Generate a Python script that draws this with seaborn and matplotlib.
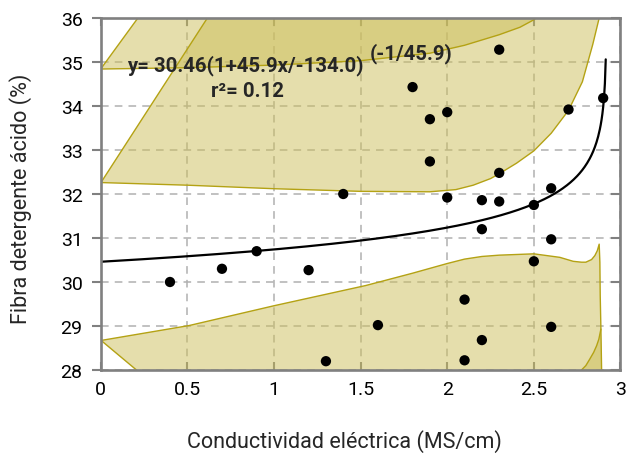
import numpy as np
import matplotlib
matplotlib.use("Agg")
import matplotlib.pyplot as plt
import matplotlib.lines as mlines
import seaborn as sns
import pandas as pd

# ---- data ----
cond = [0.4, 0.7, 0.9, 1.2, 1.4, 1.6, 1.3, 2.0, 2.2, 2.3, 2.2, 2.5, 2.6, 2.6, 2.5,
        2.1, 2.6, 2.2, 2.1, 2.3, 1.8, 1.9, 2.0, 1.9, 2.3, 2.7, 2.9]
fda = [30.0, 30.3, 30.7, 30.27, 32.0, 29.02, 28.2, 31.92, 31.86, 31.83, 31.2, 31.75, 32.13, 30.97, 30.47,
       29.6, 28.98, 28.68, 28.22, 35.28, 34.43, 33.7, 33.86, 32.74, 32.48, 33.92, 34.18]

# fitted model shown on the chart: y = a (1 + b x / c)^(-1/b)
fit_a, fit_b, fit_c = 30.46, 45.9, -134.0
fit_xmax = 2.9148

# band boundaries
A_x = [0.0, 0.5, 1.0, 1.5, 1.9, 2.1, 2.3, 2.42, 2.5, 2.56]
A_y = [34.84, 34.87, 34.93, 35.03, 35.2, 35.38, 35.62, 35.79, 35.96, 36.15]
B_x = [0.0, 0.4]
B_y = [34.84, 37.0]
C_x = [0.0, 0.78]
C_y = [32.25, 37.0]
D_x = [0.0, 0.5, 1.0, 1.5, 1.9, 2.05, 2.15, 2.25, 2.3, 2.4, 2.5, 2.6, 2.7, 2.78, 2.84, 2.877, 2.9]
D_y = [32.26, 32.2, 32.12, 32.06, 32.05, 32.1, 32.2, 32.35, 32.46, 32.7, 32.98, 33.38, 33.9, 34.55, 35.4, 36.0, 36.5]
E_x = [0.0, 0.51, 1.0, 1.53, 1.8, 2.0, 2.1, 2.2, 2.3, 2.5, 2.65, 2.727, 2.775, 2.8, 2.833, 2.852,
       2.866, 2.877, 2.881, 2.883, 2.887, 2.891]
E_y = [28.67, 29.01, 29.46, 29.92, 30.2, 30.42, 30.52, 30.58, 30.61, 30.64, 30.56, 30.47, 30.45, 30.45, 30.51, 30.6,
       30.71, 30.86, 30.45, 29.69, 28.93, 28.0]
F_x = [0.0, 0.51]
F_y = [28.68, 27.0]
G_x = [2.74, 2.775, 2.8, 2.823, 2.845, 2.862, 2.875, 2.887]
G_y = [27.7, 28.0, 28.1, 28.25, 28.4, 28.55, 28.7, 28.93]

xticks = [0, 0.5, 1, 1.5, 2, 2.5, 3]
xtick_labels = ["0", "0.5", "1", "1.5", "2", "2.5", "3"]
yticks = [28, 29, 30, 31, 32, 33, 34, 35, 36]

xlabel = "Conductividad eléctrica (MS/cm)"
ylabel = "Fibra detergente ácido (%)"
eq_main = "y= 30.46(1+45.9x/-134.0)"
eq_sup = "(-1/45.9)"
eq_r2 = "r²= 0.12"

# ---- style ----
sns.set_style("white")
plt.rcParams["font.family"] = ["Roboto", "DejaVu Sans"]

FILL = "#CDBF5A"
EDGE = "#B4A214"
FRAME = "#808080"

fig = plt.figure(figsize=(6.34, 4.60), dpi=100)
ax = fig.add_axes([0.1588, 0.1935, 0.8199, 0.7652])

# grid
ax.set_axisbelow(True)
ax.grid(True, color="#b0b0b0", linestyle=(0, (5, 4)), linewidth=1.1)

# band fills (polygons)
polyA_x = A_x + [2.6, B_x[1]]
polyA_y = A_y + [37.0, B_y[1]]
ax.fill(polyA_x, polyA_y, color=FILL, alpha=0.5, lw=0)
polyD_x = D_x + [2.9, C_x[1]]
polyD_y = D_y + [37.0, C_y[1]]
ax.fill(polyD_x, polyD_y, color=FILL, alpha=0.5, lw=0)
polyE_x = E_x + [2.891, F_x[1]]
polyE_y = E_y + [27.0, F_y[1]]
ax.fill(polyE_x, polyE_y, color=FILL, alpha=0.5, lw=0)
polyG_x = G_x + [2.891, 2.891, 2.74]
polyG_y = G_y + [28.0, 27.0, 27.0]
ax.fill(polyG_x, polyG_y, color=FILL, alpha=0.5, lw=0)

for xs, ys in [(A_x, A_y), (B_x, B_y), (C_x, C_y), (D_x, D_y), (E_x, E_y), (F_x, F_y), (G_x[1:], G_y[1:])]:
    ax.plot(xs, ys, color=EDGE, lw=1.0)

# fitted curve
xf = np.linspace(0, fit_xmax, 600)
yf = fit_a * (1 + fit_b * xf / fit_c) ** (-1 / fit_b)
sns.lineplot(x=xf, y=yf, ax=ax, color="black", lw=1.6, sort=False)

# points
df = pd.DataFrame({"x": cond, "y": fda})
sns.scatterplot(data=df, x="x", y="y", ax=ax, color="black", s=55, edgecolor="none", zorder=5)

ax.set_xlim(0, 3)
ax.set_ylim(28, 36)
ax.set_xticks(xticks)
ax.set_xticklabels(xtick_labels)
ax.set_yticks(yticks)

for sp in ax.spines.values():
    sp.set_visible(True)
    sp.set_color(FRAME)
    sp.set_linewidth(1.9)

ax.tick_params(axis="x", direction="in", top=True, bottom=True, length=6, width=1.5,
               color=FRAME, labelsize=14, pad=7, labelcolor="black")
ax.tick_params(axis="y", direction="in", left=True, right=True, length=6.5, width=1.5,
               color=FRAME, labelsize=14, pad=13, labelcolor="black")
for t in ax.yaxis.get_major_ticks():
    t.tick1line.set_marker(mlines.TICKLEFT)
    t.tick2line.set_marker(mlines.TICKLEFT)

ax.set_xlabel(xlabel, fontsize=15.5)
ax.set_ylabel(ylabel, fontsize=15.5)
ax.xaxis.set_label_coords(0.468, -0.168)
ax.yaxis.set_label_coords(-0.133, 0.49)

ax.text(0.152, 34.80, eq_main, fontsize=14.7, fontweight="bold", va="baseline", ha="left", zorder=6)
ax.text(1.554, 35.09, eq_sup, fontsize=14.7, fontweight="bold", va="baseline", ha="left", zorder=6)
ax.text(0.639, 34.23, eq_r2, fontsize=14.7, fontweight="bold", va="baseline", ha="left", zorder=6)

fig.savefig("out.png", dpi=100)
